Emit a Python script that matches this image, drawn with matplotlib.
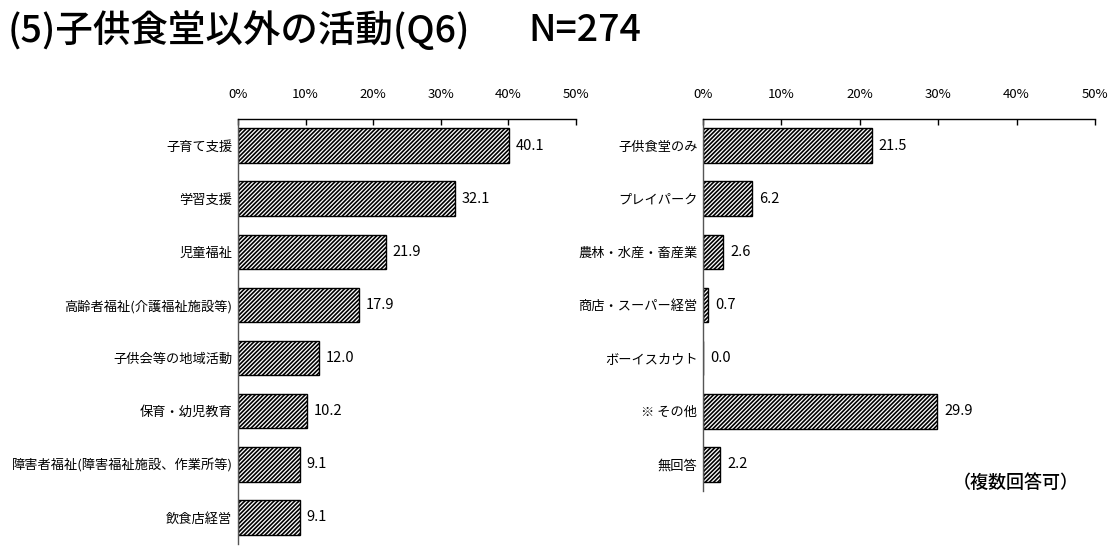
import matplotlib
matplotlib.use("Agg")
import matplotlib.pyplot as plt

plt.rcParams['font.family'] = ['Noto Sans CJK JP', 'DejaVu Sans']
plt.rcParams['hatch.linewidth'] = 1.2

# ---- data ----
title_main = "(5)子供食堂以外の活動(Q6)"
title_n = "N=274"
left_categories = ["子育て支援", "学習支援", "児童福祉", "高齢者福祉(介護福祉施設等)",
                   "子供会等の地域活動", "保育・幼児教育",
                   "障害者福祉(障害福祉施設、作業所等)", "飲食店経営"]
left_values = [40.1, 32.1, 21.9, 17.9, 12.0, 10.2, 9.1, 9.1]
right_categories = ["子供食堂のみ", "プレイパーク", "農林・水産・畜産業", "商店・スーパー経営",
                    "ボーイスカウト", "※ その他", "無回答"]
right_values = [21.5, 6.2, 2.6, 0.7, 0.0, 29.9, 2.2]
xticks = [0, 10, 20, 30, 40, 50]
xtick_labels = ["0%", "10%", "20%", "30%", "40%", "50%"]
note = "（複数回答可）"

num_font = ['Noto Sans CJK JP', 'DejaVu Sans']

W, H = 1112, 547
fig = plt.figure(figsize=(W / 100, H / 100), dpi=100)

fig.text(8 / W, 1 - 30 / H, title_main, fontsize=27, fontweight='medium', ha='left', va='center',
         family=['Noto Sans CJK JP', 'DejaVu Sans'])
fig.text(528 / W, 1 - 30 / H, title_n, fontsize=27, fontweight='medium', ha='left', va='center',
         family=['Noto Sans CJK JP', 'DejaVu Sans'])


def draw(ax, cats, vals, off):
    n = len(cats)
    ypos = list(range(n))
    ax.barh(ypos, vals, height=0.65, color='white', edgecolor='black', hatch='////////',
            linewidth=1.0, zorder=2)
    ax.set_xlim(0, 50)
    ax.set_ylim(n - 0.5, -0.5)
    ax.set_yticks(ypos)
    ax.set_yticklabels(cats, fontsize=9.5)
    ax.tick_params(axis='y', length=0, pad=4)
    ax.xaxis.tick_top()
    ax.set_xticks(xticks)
    ax.set_xticklabels(xtick_labels, fontsize=9.5, family=num_font)
    ax.tick_params(axis='x', direction='in', length=4, width=1, pad=13, colors='black')
    for s in ['right', 'bottom']:
        ax.spines[s].set_visible(False)
    ax.spines['top'].set_linewidth(1.0)
    ax.spines['left'].set_color('#555555')
    ax.spines['left'].set_linewidth(1.0)
    for y, v in zip(ypos, vals):
        ax.text(v + off, y, f"{v:.1f}", va='center', ha='left',
                fontsize=10.5, family=num_font)


axL = fig.add_axes([238 / W, 1 - 544 / H, 338 / W, 425 / H])
draw(axL, left_categories, left_values, 1.0)
axR = fig.add_axes([703 / W, 1 - 491 / H, 392 / W, 372 / H])
draw(axR, right_categories, right_values, 0.9)

fig.text(1016 / W, 1 - 483 / H, note, fontsize=13, fontweight='medium', ha='center', va='center')

fig.savefig("out.png", dpi=100)
